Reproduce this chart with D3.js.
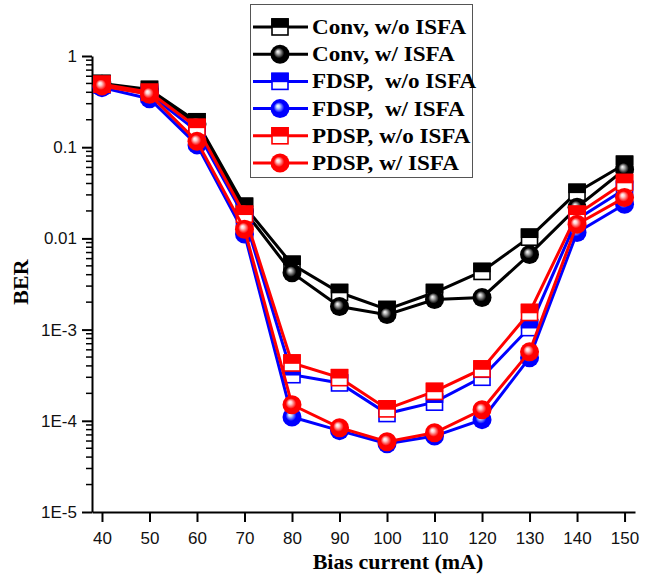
<!DOCTYPE html>
<html>
<head>
<meta charset="utf-8">
<script src="https://cdn.jsdelivr.net/npm/d3@7"></script>
<style>
  body { margin: 0; background: #fff; }
  svg { display: block; }
</style>
</head>
<body>
<div id="wrapper"></div>
<script>
// data
const biasCurrent = [40, 50, 60, 70, 80, 90, 100, 110, 120, 130, 140, 150]
const convWo = [0.50, 0.43, 0.19, 0.0225, 0.0052, 0.00255, 0.00166, 0.00255, 0.00434, 0.0103, 0.032, 0.065]
const convW = [0.49, 0.41, 0.18, 0.020, 0.0042, 0.00179, 0.00146, 0.00214, 0.00225, 0.00667, 0.0219, 0.057]
const fdspWo = [0.48, 0.38, 0.15, 0.017, 3.2e-4, 2.6e-4, 1.2e-4, 1.6e-4, 3.0e-4, 1.05e-3, 0.0162, 0.0345]
const fdspW = [0.45, 0.34, 0.106, 0.0112, 1.1e-4, 7.8e-5, 5.6e-5, 6.8e-5, 1.03e-4, 4.9e-4, 0.0116, 0.0237]
const pdspWo = [0.49, 0.40, 0.165, 0.0184, 4.3e-4, 2.97e-4, 1.35e-4, 2.1e-4, 3.7e-4, 1.54e-3, 0.0184, 0.041]
const pdspW = [0.47, 0.38, 0.116, 0.0126, 1.5e-4, 8.4e-5, 5.9e-5, 7.4e-5, 1.32e-4, 5.7e-4, 0.0143, 0.028]

const seriesNames = ['Conv, w/o ISFA', 'Conv, w/ ISFA', 'FDSP,  w/o ISFA', 'FDSP,  w/ ISFA', 'PDSP, w/o ISFA', 'PDSP, w/ ISFA']
const seriesValues = [convWo, convW, fdspWo, fdspW, pdspWo, pdspW]
const seriesColors = ['#000000', '#000000', '#0000ff', '#0000ff', '#ff0000', '#ff0000']
const seriesShapes = ['square', 'circle', 'square', 'circle', 'square', 'circle']
const highlightColors = ['#000000', '#bbbbbb', '#0000ff', '#bcd8ff', '#ff0000', '#ffd0d0']

const xTicks = [40, 50, 60, 70, 80, 90, 100, 110, 120, 130, 140, 150]
const yTicks = [1, 0.1, 0.01, 1e-3, 1e-4, 1e-5]
const yTickLabels = ['1', '0.1', '0.01', '1E-3', '1E-4', '1E-5']

const width = 652
const height = 575

const svg = d3.select('#wrapper').append('svg')
  .attr('width', width)
  .attr('height', height)

svg.append('rect').attr('width', width).attr('height', height).attr('fill', '#fff')

const xScale = d3.scaleLinear().domain([37.9, 152.2]).range([92, 635])
const yScale = d3.scaleLog().domain([1e-5, 1]).range([512, 56])

// gradients for the shaded balls
const defs = svg.append('defs')
seriesColors.forEach((c, i) => {
  if (seriesShapes[i] !== 'circle') return
  const g = defs.append('radialGradient')
    .attr('id', 'ball' + i)
    .attr('cx', '0.5').attr('cy', '0.5').attr('r', '0.5')
    .attr('fx', '0.38').attr('fy', '0.36')
  g.append('stop').attr('offset', '0%').attr('stop-color', '#ffffff')
  g.append('stop').attr('offset', '18%').attr('stop-color', highlightColors[i])
  g.append('stop').attr('offset', '55%').attr('stop-color', c)
  g.append('stop').attr('offset', '100%').attr('stop-color', c)
})

// axes
const xAxis = svg.append('g')
  .attr('transform', 'translate(0,512)')
  .call(d3.axisBottom(xScale).tickValues(xTicks).tickSize(10).tickPadding(10).tickSizeOuter(0))
xAxis.select('.domain').attr('stroke-width', 2)
xAxis.selectAll('.tick line').attr('stroke-width', 2)
xAxis.selectAll('.tick text')
  .style('font-family', 'Liberation Sans, Arial, sans-serif')
  .style('font-size', '17px')
  .attr('fill', '#111')

const minorTicks = []
for (let e = -5; e < 0; e++) {
  for (let m = 2; m <= 9; m++) minorTicks.push(m * Math.pow(10, e))
}

const yAxis = svg.append('g')
  .attr('transform', 'translate(92,0)')
  .call(d3.axisLeft(yScale).tickValues(yTicks).tickFormat((d, i) => yTickLabels[i])
    .tickSize(10).tickPadding(5).tickSizeOuter(0))
yAxis.select('.domain').attr('stroke-width', 2)
yAxis.selectAll('.tick line').attr('stroke-width', 2)
yAxis.selectAll('.tick text')
  .style('font-family', 'Liberation Sans, Arial, sans-serif')
  .style('font-size', '17px')
  .attr('fill', '#111')

yAxis.selectAll('.minor')
  .data(minorTicks)
  .enter()
  .append('line')
  .attr('class', 'minor')
  .attr('x1', -6).attr('x2', 0)
  .attr('y1', (d) => yScale(d)).attr('y2', (d) => yScale(d))
  .attr('stroke', '#000')
  .attr('stroke-width', 1.5)

svg.append('text')
  .attr('x', 398).attr('y', 569)
  .attr('text-anchor', 'middle')
  .style('font-family', 'Liberation Serif, Times New Roman, serif')
  .style('font-weight', 'bold')
  .style('font-size', '22px')
  .text('Bias current (mA)')

svg.append('text')
  .attr('transform', 'translate(28,282) rotate(-90)')
  .attr('text-anchor', 'middle')
  .style('font-family', 'Liberation Serif, Times New Roman, serif')
  .style('font-weight', 'bold')
  .style('font-size', '22px')
  .text('BER')

// markers
const squareSize = 16
const circleR = 9.5

function drawMarker(g, shape, i, cx, cy) {
  const color = seriesColors[i]
  if (shape === 'square') {
    g.append('rect')
      .attr('x', cx - squareSize / 2).attr('y', cy - squareSize / 2)
      .attr('width', squareSize).attr('height', squareSize)
      .attr('fill', '#fff').attr('stroke', color).attr('stroke-width', 1.6)
    g.append('rect')
      .attr('x', cx - squareSize / 2).attr('y', cy - squareSize / 2)
      .attr('width', squareSize).attr('height', squareSize / 2)
      .attr('fill', color).attr('stroke', color).attr('stroke-width', 1.6)
  } else {
    g.append('circle')
      .attr('cx', cx).attr('cy', cy).attr('r', circleR)
      .attr('fill', `url(#ball${i})`)
  }
}

const line = d3.line()
  .x((d) => xScale(d[0]))
  .y((d) => yScale(d[1]))

seriesValues.forEach((values, i) => {
  const pts = biasCurrent.map((b, j) => [b, values[j]])
  const g = svg.append('g').attr('class', 'series')
  g.append('path')
    .datum(pts)
    .attr('d', line)
    .attr('fill', 'none')
    .attr('stroke', seriesColors[i])
    .attr('stroke-width', 3)
  pts.forEach((p) => drawMarker(g, seriesShapes[i], i, xScale(p[0]), yScale(p[1])))
})

// legend
const legend = svg.append('g').attr('class', 'legend')
legend.append('rect')
  .attr('x', 250.5).attr('y', 4.5)
  .attr('width', 222).attr('height', 173)
  .attr('fill', '#fff')
  .attr('stroke', '#555')
  .attr('stroke-width', 1)

seriesNames.forEach((name, i) => {
  const cy = 27 + i * 27.2
  const row = legend.append('g')
  row.append('line')
    .attr('x1', 253).attr('x2', 308)
    .attr('y1', cy).attr('y2', cy)
    .attr('stroke', seriesColors[i])
    .attr('stroke-width', 3)
  drawMarker(row, seriesShapes[i], i, 280, cy)
  row.append('text')
    .attr('transform', `translate(312,${cy + 7}) scale(1.1,1)`)
    .style('font-family', 'Liberation Serif, Times New Roman, serif')
    .style('font-weight', 'bold')
    .style('font-size', '21px')
    .style('white-space', 'pre')
    .text(name)
})
</script>
</body>
</html>
